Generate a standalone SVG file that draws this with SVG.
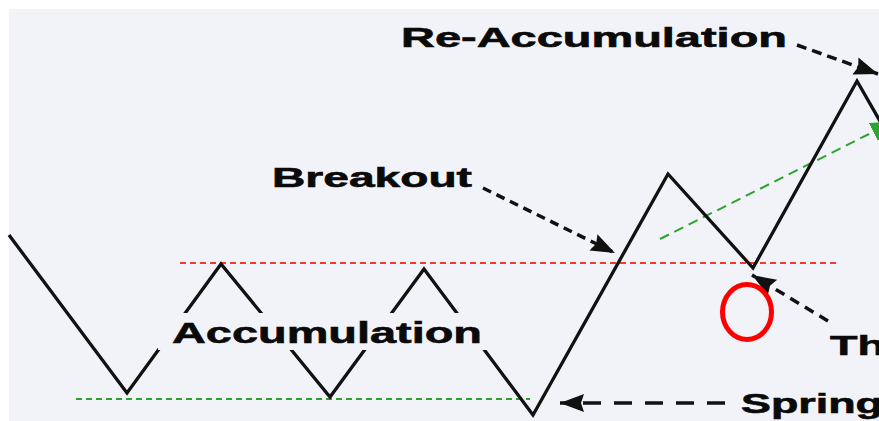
<svg xmlns="http://www.w3.org/2000/svg" width="879" height="421" viewBox="0 0 879 421">
  <style>
    .lbl { font-family: "Liberation Sans", Arial, sans-serif; font-weight: bold; fill: #0a0a0a; stroke: #0a0a0a; stroke-width: 0.6; }
    .price { fill: none; stroke: #111; stroke-width: 3.3; stroke-linejoin: miter; }
    .resist { stroke: #f23a2e; stroke-width: 2.2; stroke-dasharray: 6 4; fill: none; }
    .support { stroke: #2ea32e; stroke-width: 2.2; stroke-dasharray: 6 4; fill: none; }
    .trend { stroke: #2ea32e; stroke-width: 2; stroke-dasharray: 10 6; fill: none; }
    .pointer { stroke: #111; stroke-width: 3.5; fill: none; }
  </style>
  <defs>
    <marker id="headBlack" markerUnits="userSpaceOnUse" markerWidth="26" markerHeight="20" refX="24" refY="9" orient="auto">
      <path d="M0,0 L24,9 L0,18 L3,9 Z" fill="#111"/>
    </marker>
    <marker id="headGreen" markerUnits="userSpaceOnUse" markerWidth="24" markerHeight="22" refX="22" refY="10" orient="auto">
      <path d="M0,0 L22,10 L0,20 Z" fill="#2ea32e"/>
    </marker>
  </defs>

  <!-- canvas -->
  <rect x="0" y="0" width="879" height="421" fill="#ffffff"/>
  <rect x="9" y="9" width="870" height="412" fill="#f2f3f9"/>

  <!-- support / resistance levels -->
  <g id="levels">
    <line class="resist" x1="180" y1="263" x2="838" y2="263"/>
    <line class="support" x1="76" y1="399" x2="530" y2="399"/>
    <line class="trend" x1="660" y1="239" x2="893" y2="122" marker-end="url(#headGreen)"/>
  </g>

  <!-- price path -->
  <g id="price-path">
    <polyline class="price" points="9,235 127,393 221,264 330,397 424,269 533,415 668,174 753,268 857,81 900,156"/>
  </g>

  <!-- callout arrows -->
  <g id="connectors">
    <path class="pointer" d="M797,45 L878,74" stroke-dasharray="10 6" marker-end="url(#headBlack)"/>
    <path class="pointer" d="M483,188 L615,253" stroke-dasharray="9 6" marker-end="url(#headBlack)"/>
    <path class="pointer" d="M828,321 L752,275" stroke-dasharray="10 7" marker-end="url(#headBlack)"/>
    <path class="pointer" d="M725,403 L560,403" stroke-dasharray="18 13" marker-end="url(#headBlack)"/>
  </g>

  <g id="accumulation">
    <rect x="158" y="313" width="330" height="37" fill="#f2f3f9"/>
    <text class="lbl" x="172" y="343" font-size="30" textLength="310" lengthAdjust="spacingAndGlyphs">Accumulation</text>
  </g>
  <g id="re-accumulation">
    <text class="lbl" x="401" y="47" font-size="27" textLength="386" lengthAdjust="spacingAndGlyphs">Re-Accumulation</text>
  </g>
  <g id="breakout">
    <text class="lbl" x="272" y="187" font-size="28" textLength="200" lengthAdjust="spacingAndGlyphs">Breakout</text>
  </g>
  <g id="test">
    <text class="lbl" x="830" y="355" font-size="28" textLength="55" lengthAdjust="spacingAndGlyphs">Th</text>
  </g>
  <g id="spring">
    <text class="lbl" x="741" y="413" font-size="28" textLength="142" lengthAdjust="spacingAndGlyphs">Spring</text>
  </g>

  <!-- highlight -->
  <g id="highlight">
    <ellipse cx="747" cy="312" rx="24.5" ry="27.5" fill="none" stroke="#f00" stroke-width="5"/>
  </g>
</svg>
